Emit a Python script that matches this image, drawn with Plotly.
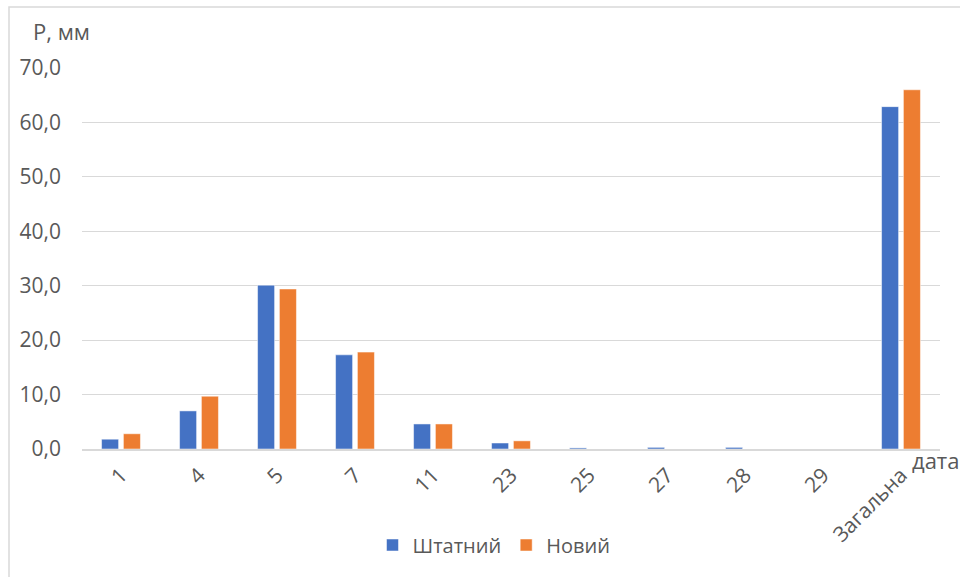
import plotly.graph_objects as go

categories = ["1", "4", "5", "7", "11", "23", "25", "27", "28", "29", "Загальна"]
shtatnyi = [1.8, 7.0, 30.1, 17.3, 4.6, 1.1, 0.2, 0.3, 0.3, 0.0, 62.9]
novyi = [2.8, 9.7, 29.4, 17.8, 4.6, 1.5, 0.0, 0.0, 0.0, 0.0, 66.0]
y_ticks = [0, 10, 20, 30, 40, 50, 60, 70]

FONT = "Open Sans"
GRAY = "#595959"

fig = go.Figure()
fig.add_trace(go.Bar(x=categories, y=shtatnyi, name="Штатний",
                     marker=dict(color="#4472C4", line=dict(color="#ffffff", width=0.5))))
fig.add_trace(go.Bar(x=categories, y=novyi, name="Новий",
                     marker=dict(color="#ED7D31", line=dict(color="#ffffff", width=0.5))))

L, R, T, B = 82, 20, 68, 128
W, H = 960, 577
pw, ph = W - L - R, H - T - B

def px(x):
    return (x - L) / pw

def py(y):
    return 1 - (y - T) / ph

fig.update_layout(
    width=W, height=H,
    margin=dict(l=L, r=R, t=T, b=B, autoexpand=False),
    paper_bgcolor="white", plot_bgcolor="white",
    separators=", ",
    barmode="group", bargap=0.44, bargroupgap=0.22,
    font=dict(family=FONT, color=GRAY, size=20),
    showlegend=True,
    legend=dict(orientation="h", x=px(494), xanchor="center", y=py(545), yanchor="middle",
                font=dict(size=20, color=GRAY, family=FONT), itemwidth=30,
                traceorder="normal"),
    xaxis=dict(tickangle=-45, showgrid=False, showline=True, linecolor="#d9d9d9", linewidth=1.5,
               tickfont=dict(size=21, color=GRAY, family=FONT), ticks="", fixedrange=True,
               ticklabelstandoff=4),
    yaxis=dict(range=[0, 70], tickvals=y_ticks, tickformat=".1f", showgrid=True,
               gridcolor="#d9d9d9", gridwidth=1.2, zeroline=False, showline=False,
               ticks="", ticklen=0, ticklabelstandoff=20,
               tickfont=dict(size=21, color=GRAY, family=FONT)),
    annotations=[
        dict(text="Р, мм", xref="paper", yref="paper", x=px(31), y=py(31), xanchor="left",
             yanchor="middle", showarrow=False, font=dict(size=22, color=GRAY, family=FONT)),
        dict(text="дата", xref="paper", yref="paper", x=px(910), y=py(460), xanchor="left",
             yanchor="middle", showarrow=False, font=dict(size=22, color=GRAY, family=FONT)),
    ],
    shapes=[
        dict(type="rect", xref="paper", yref="paper", x0=px(9), x1=px(1000), y0=py(620), y1=py(7),
             line=dict(color="#d9d9d9", width=1.5), fillcolor="rgba(0,0,0,0)", layer="below"),
    ],
)

fig.write_html("out.html")
